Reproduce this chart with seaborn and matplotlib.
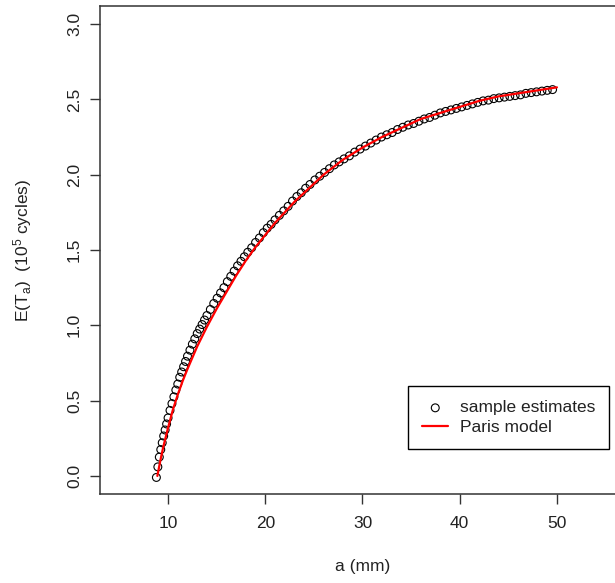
import matplotlib
matplotlib.use("Agg")
import matplotlib.pyplot as plt
import seaborn as sns
import pandas as pd

# Crack length a (mm) and sample estimates of E(T_a) (10^5 cycles)
a_sample = [
    8.80, 8.95, 9.10, 9.25, 9.40, 9.55, 9.70, 9.85, 10.00, 10.20,
    10.40, 10.60, 10.80, 11.00, 11.20, 11.40, 11.60, 11.80, 12.00, 12.25,
    12.50, 12.75, 13.00, 13.25, 13.50, 13.75, 14.00, 14.35, 14.70, 15.05,
    15.40, 15.75, 16.10, 16.45, 16.80, 17.15, 17.50, 17.85, 18.20, 18.60,
    19.00, 19.40, 19.80, 20.20, 20.60, 21.00, 21.45, 21.90, 22.35, 22.80,
    23.25, 23.70, 24.15, 24.60, 25.10, 25.60, 26.10, 26.60, 27.10, 27.60,
    28.10, 28.65, 29.20, 29.75, 30.30, 30.85, 31.40, 31.95, 32.50, 33.05,
    33.60, 34.15, 34.70, 35.25, 35.80, 36.35, 36.90, 37.45, 38.00, 38.55,
    39.10, 39.65, 40.20, 40.75, 41.30, 41.85, 42.40, 42.95, 43.50, 44.05,
    44.60, 45.15, 45.70, 46.25, 46.80, 47.35, 47.90, 48.45, 49.00, 49.55,
]
t_sample = [
    -0.010, 0.060, 0.125, 0.175, 0.220, 0.265, 0.305, 0.345, 0.385, 0.435,
    0.480, 0.525, 0.570, 0.610, 0.655, 0.690, 0.725, 0.760, 0.795, 0.835,
    0.875, 0.910, 0.945, 0.975, 1.005, 1.035, 1.065, 1.105, 1.145, 1.180,
    1.215, 1.250, 1.290, 1.325, 1.360, 1.395, 1.425, 1.455, 1.485, 1.515,
    1.550, 1.580, 1.615, 1.645, 1.670, 1.700, 1.730, 1.760, 1.790, 1.825,
    1.855, 1.880, 1.910, 1.935, 1.965, 1.990, 2.015, 2.040, 2.065, 2.085,
    2.105, 2.125, 2.150, 2.170, 2.190, 2.210, 2.230, 2.250, 2.265, 2.280,
    2.300, 2.315, 2.330, 2.340, 2.355, 2.370, 2.380, 2.395, 2.410, 2.420,
    2.430, 2.440, 2.450, 2.460, 2.470, 2.480, 2.490, 2.495, 2.505, 2.510,
    2.515, 2.520, 2.525, 2.530, 2.540, 2.545, 2.550, 2.555, 2.560, 2.565,
]

# Paris-law model curve
a_model = [
    8.9, 9.2, 9.5, 10.0, 10.5, 11.0, 11.5, 12.0, 13.0, 14.0,
    15.0, 16.0, 17.0, 18.0, 19.0, 20.0, 21.0, 22.0, 23.0, 24.0,
    25.0, 26.0, 27.0, 28.0, 29.0, 30.0, 32.0, 34.0, 36.0, 38.0,
    40.0, 42.0, 44.0, 46.0, 48.0, 50.0,
]
t_model = [
    0.00, 0.10, 0.19, 0.32, 0.44, 0.54, 0.63, 0.71, 0.86, 0.99,
    1.11, 1.22, 1.33, 1.43, 1.52, 1.60, 1.68, 1.75, 1.82, 1.88,
    1.94, 2.00, 2.05, 2.10, 2.14, 2.18, 2.25, 2.31, 2.37, 2.41,
    2.45, 2.49, 2.52, 2.54, 2.56, 2.58,
]

x_ticks = [10, 20, 30, 40, 50]
y_ticks = [0.0, 0.5, 1.0, 1.5, 2.0, 2.5, 3.0]
y_tick_labels = ["0.0", "0.5", "1.0", "1.5", "2.0", "2.5", "3.0"]

sample_df = pd.DataFrame({"a": a_sample, "T": t_sample})
model_df = pd.DataFrame({"a": a_model, "T": t_model})

sns.set_theme(style="white")
plt.rcParams["font.family"] = ["Liberation Sans", "DejaVu Sans"]
plt.rcParams["mathtext.default"] = "regular"

text_color = "#222222"
axis_color = "#333333"
fs = 12.5

fig = plt.figure(figsize=(6.15, 5.83), dpi=100)
fig.patch.set_facecolor("white")
ax = fig.add_axes([100 / 615, 89 / 583, 525 / 615, 488 / 583])
ax.set_facecolor("white")

sns.scatterplot(data=sample_df, x="a", y="T", ax=ax, marker="o",
                s=32, facecolor="none", edgecolor="black", linewidth=0.8,
                label="sample estimates", zorder=2)
sns.lineplot(data=model_df, x="a", y="T", ax=ax, color="#ff0000",
             linewidth=1.6, estimator=None, sort=False,
             label="Paris model", zorder=3)

ax.set_xlim(3, 57)
ax.set_ylim(-0.12, 3.12)
ax.set_xticks(x_ticks)
ax.set_xticklabels([str(v) for v in x_ticks])
ax.set_yticks(y_ticks)
ax.set_yticklabels(y_tick_labels, rotation=90, va="center")

for side in ["left", "bottom", "top", "right"]:
    ax.spines[side].set_visible(True)
    ax.spines[side].set_color(axis_color)
    ax.spines[side].set_linewidth(1.1)

ax.tick_params(axis="both", which="major", direction="out", length=7,
               width=1.0, color=axis_color, labelsize=fs,
               labelcolor=text_color, bottom=True, left=True)
ax.tick_params(axis="x", pad=9)
ax.tick_params(axis="y", pad=6)

ax.set_xlabel("a (mm)", fontsize=fs, color=text_color)
ax.set_ylabel(r"E(T$_a$)  (10$^5$ cycles)", fontsize=fs, color=text_color)
ax.xaxis.set_label_coords(0.5, -0.133)
ax.yaxis.set_label_coords(-0.125, 0.5)

leg = ax.legend(loc="upper left", bbox_to_anchor=(408 / 615, 1 - 386 / 583),
                bbox_transform=fig.transFigure, borderaxespad=0,
                frameon=True, fancybox=False, framealpha=1,
                edgecolor="black", fontsize=fs, handlelength=1.5,
                handletextpad=0.65, labelspacing=0.27, borderpad=0.82)
leg.get_frame().set_linewidth(1.0)
for txt in leg.get_texts():
    txt.set_color(text_color)

fig.savefig("out.png", dpi=100, facecolor="white")
